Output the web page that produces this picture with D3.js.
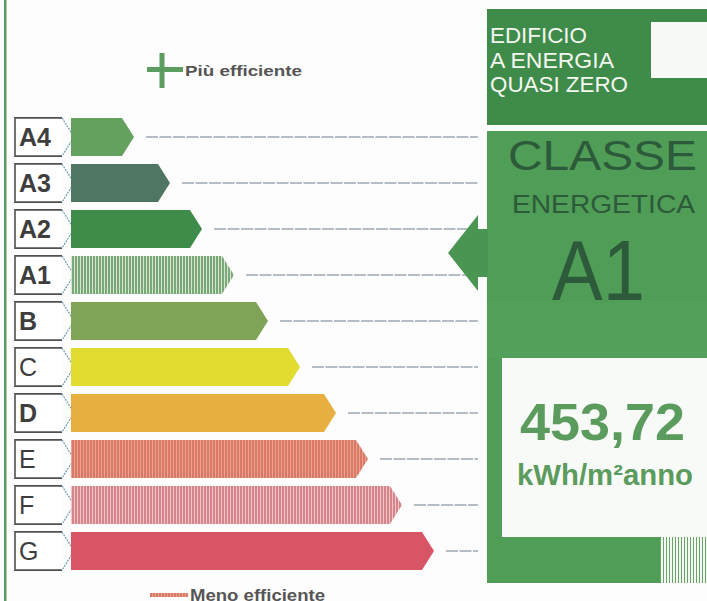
<!DOCTYPE html>
<html>
<head>
<meta charset="utf-8">
<title>Classe energetica</title>
<script src="https://cdn.jsdelivr.net/npm/d3@7"></script>
<style>
  body { margin: 0; background: #fdfdfd; }
  svg { display: block; }
  text { font-family: "Liberation Sans", Arial, sans-serif; }
</style>
</head>
<body>
<div id="chart"></div>
<script>
// classes, from most to least efficient
const classes = ["A4", "A3", "A2", "A1", "B", "C", "D", "E", "F", "G"];
// relative length of each arrow (0-100)
const lengths = [16, 25, 33, 41, 49.5, 57.5, 66.5, 74.5, 83, 91];
const colors = ["#64a15f", "#4f7662", "#3f8b4a", "#7ba878", "#80a457", "#e2dc30", "#e7ae40", "#d97a66", "#d4858c", "#d85565"];
const stripes = [null, null, null, "#d6e6d0", null, null, null, "#eba190", "#f2c4c6", null];
const boldLabel = [true, true, true, true, true, false, true, false, false, false];

const currentClass = "A1";
const value = "453,72";
const unit = "kWh/m²anno";

const W = 707, H = 601;
const svg = d3.select("#chart").append("svg").attr("width", W).attr("height", H);

const x = d3.scaleLinear().domain([0, 100]).range([70, 470]);
const y = d3.scaleBand().domain(classes).range([114, 574]).paddingInner(0.17).paddingOuter(0.085);
const bw = y.bandwidth();

// stripe patterns (scan texture)
const defs = svg.append("defs");
classes.forEach((c, i) => {
  if (!stripes[i]) return;
  const p = defs.append("pattern").attr("id", "st" + i)
    .attr("width", 3).attr("height", 4).attr("patternUnits", "userSpaceOnUse");
  p.append("rect").attr("width", 3).attr("height", 4).attr("fill", colors[i]);
  p.append("rect").attr("x", 2).attr("width", 1).attr("height", 4).attr("fill", stripes[i]);
});
const sp = defs.append("pattern").attr("id", "stCorner")
  .attr("width", 3).attr("height", 4).attr("patternUnits", "userSpaceOnUse");
sp.append("rect").attr("width", 3).attr("height", 4).attr("fill", "#f4f8f2");
sp.append("rect").attr("width", 1).attr("height", 4).attr("fill", "#6aa56a");

// left border line
svg.append("rect").attr("x", 4).attr("y", 0).attr("width", 2.5).attr("height", H).attr("fill", "#5f9c62");

// label boxes
const rows = svg.selectAll(".row").data(classes).join("g").attr("class", "row");

rows.append("path")
  .attr("d", d => { const t = y(d), b = t + bw; return `M62,${t} L15,${t} L15,${b} L62,${b}`; })
  .attr("fill", "#fff").attr("stroke", "#505050").attr("stroke-width", 1.6);
rows.append("path")
  .attr("d", d => { const t = y(d), b = t + bw; return `M62,${t} L74,${t + bw / 2} L62,${b}`; })
  .attr("fill", "none").attr("stroke", "#6f9cb4").attr("stroke-width", 1.2).attr("stroke-dasharray", "2,1");
rows.append("text")
  .attr("x", 19).attr("y", d => y(d) + bw / 2 + 9)
  .attr("font-size", 25).attr("font-weight", (d, i) => boldLabel[i] ? "bold" : "normal")
  .attr("fill", "#3e3e3e")
  .text(d => d);

// arrows
rows.append("path")
  .attr("d", (d, i) => {
    const t = y(d), b = t + bw, tip = x(lengths[i]);
    return `M71,${t} L${tip - 12},${t} L${tip},${t + bw / 2} L${tip - 12},${b} L71,${b} Z`;
  })
  .attr("fill", (d, i) => stripes[i] ? `url(#st${i})` : colors[i]);

// dashed guide lines
rows.append("line")
  .attr("x1", (d, i) => x(lengths[i]) + 12).attr("x2", x(102))
  .attr("y1", d => y(d) + bw / 2).attr("y2", d => y(d) + bw / 2)
  .attr("stroke", "#6f7f90").attr("stroke-width", 1.1).attr("stroke-dasharray", "12,1.5");

// "Più efficiente"
svg.append("rect").attr("x", 147).attr("y", 67).attr("width", 36).attr("height", 5).attr("fill", "#5a9d5e");
svg.append("rect").attr("x", 159.5).attr("y", 53).attr("width", 5).attr("height", 35).attr("fill", "#5a9d5e");
svg.append("text").attr("x", 185).attr("y", 76).attr("font-size", 15).attr("font-weight", "bold")
  .attr("fill", "#555").attr("textLength", 117).attr("lengthAdjust", "spacingAndGlyphs").text("Più efficiente");

// "Meno efficiente"
svg.append("rect").attr("x", 150).attr("y", 593).attr("width", 38).attr("height", 4).attr("fill", "url(#st7)");
svg.append("text").attr("x", 190).attr("y", 601).attr("font-size", 16).attr("font-weight", "bold")
  .attr("fill", "#555").attr("textLength", 135).attr("lengthAdjust", "spacingAndGlyphs").text("Meno efficiente");

// right panel: nZEB box
const px = 487;
svg.append("rect").attr("x", px).attr("y", 9).attr("width", W - px).attr("height", 116).attr("fill", "#3f8b4a");
svg.append("rect").attr("x", 651).attr("y", 22).attr("width", W - 651).attr("height", 56).attr("fill", "#f7f9f7");
const nz = ["EDIFICIO", "A ENERGIA", "QUASI ZERO"];
const nzW = [97, 124, 138];
svg.selectAll(".nz").data(nz).join("text").attr("class", "nz")
  .attr("x", 490).attr("y", (d, i) => 43 + i * 24.5)
  .attr("font-size", 22).attr("fill", "#f4f8f0")
  .attr("textLength", (d, i) => nzW[i]).attr("lengthAdjust", "spacingAndGlyphs")
  .text(d => d);

// right panel: class box
svg.append("rect").attr("x", px).attr("y", 131).attr("width", W - px).attr("height", 452).attr("fill", "#4f9d56");
svg.append("rect").attr("x", px).attr("y", 303).attr("width", W - px).attr("height", 55).attr("fill", "#53a05a");

// pointer arrow towards current class
const ay = y(currentClass) - 3;
svg.append("path")
  .attr("d", `M${px + 1},${ay - 24} L478,${ay - 24} L478,${ay - 38} L448,${ay} L478,${ay + 38} L478,${ay + 24} L${px + 1},${ay + 24} Z`)
  .attr("fill", "#4a9552");

svg.append("text").attr("x", 508).attr("y", 170).attr("font-size", 42).attr("fill", "#2c5a3a")
  .attr("textLength", 189).attr("lengthAdjust", "spacingAndGlyphs").text("CLASSE");
svg.append("text").attr("x", 512).attr("y", 213).attr("font-size", 25).attr("fill", "#2c5a3a")
  .attr("textLength", 183).attr("lengthAdjust", "spacingAndGlyphs").text("ENERGETICA");
svg.append("text").attr("x", 552).attr("y", 300).attr("font-size", 86).attr("fill", "#2c5a3a")
  .attr("textLength", 93).attr("lengthAdjust", "spacingAndGlyphs").text(currentClass);

// value box
svg.append("rect").attr("x", 502).attr("y", 358).attr("width", W - 502).attr("height", 179).attr("fill", "#f8faf8");
svg.append("text").attr("x", 520).attr("y", 440).attr("font-size", 51).attr("font-weight", "bold").attr("fill", "#5b9b5d")
  .attr("textLength", 165).attr("lengthAdjust", "spacingAndGlyphs").text(value);
svg.append("text").attr("x", 517).attr("y", 485).attr("font-size", 29).attr("font-weight", "bold").attr("fill", "#5b9b5d")
  .attr("textLength", 176).attr("lengthAdjust", "spacingAndGlyphs").text(unit);

// striped corner
svg.append("rect").attr("x", 660).attr("y", 537).attr("width", W - 660).attr("height", 46).attr("fill", "url(#stCorner)");
</script>
</body>
</html>
